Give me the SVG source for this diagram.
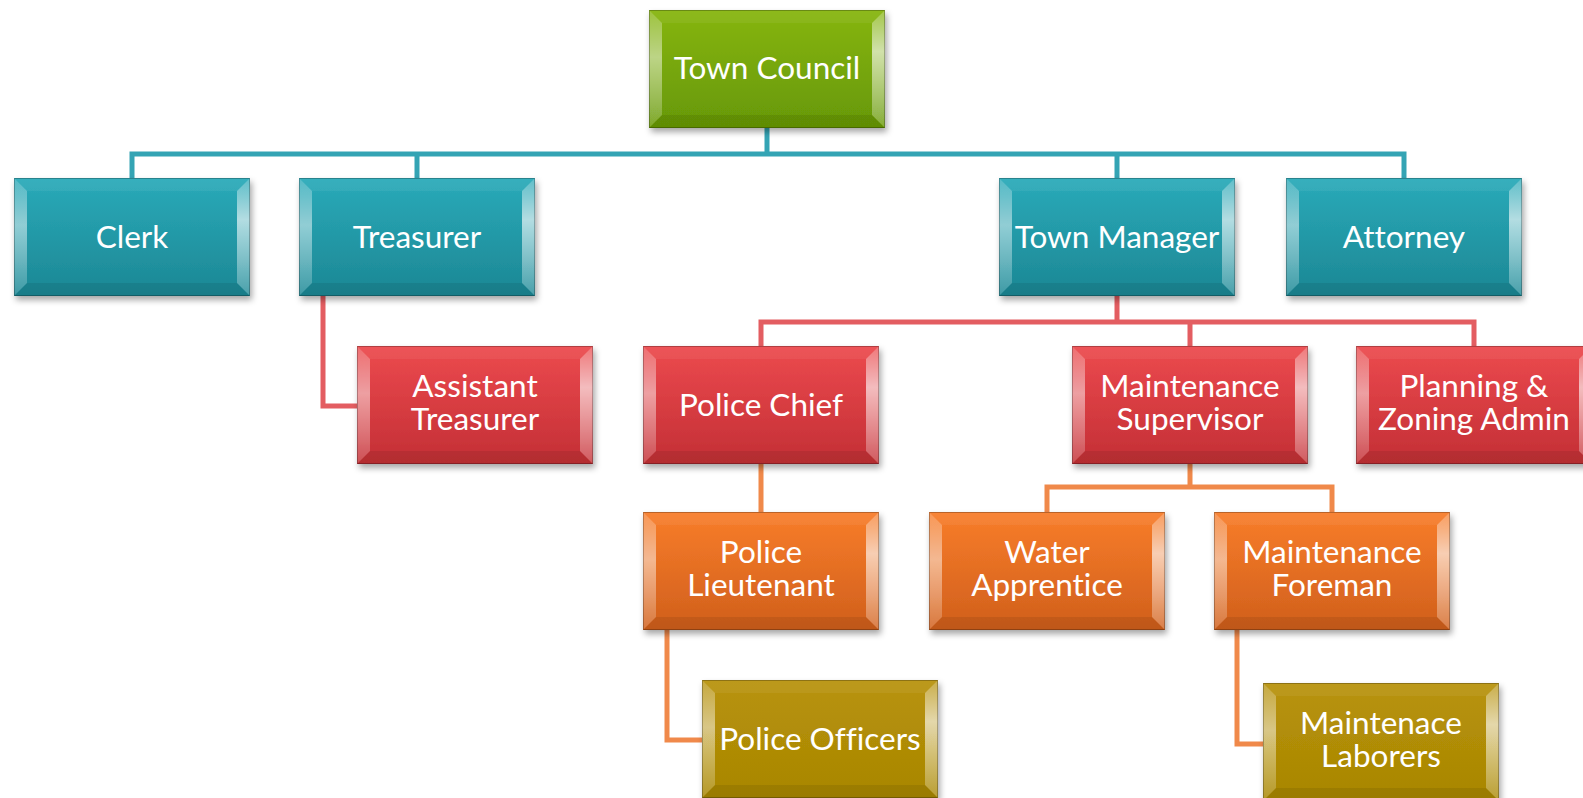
<svg xmlns="http://www.w3.org/2000/svg" xmlns:xlink="http://www.w3.org/1999/xlink" width="1583" height="798" viewBox="0 0 1583 798">
<style>
.conn{fill:none;stroke-width:5;stroke-linejoin:miter;stroke-linecap:butt}
.ct{stroke:#34a4b4}
.cr{stroke:#e35d61}
.co{stroke:#f0894a}
.lbl{font-family:"Lato","Liberation Sans",sans-serif;font-size:31.5px;fill:#ffffff;text-anchor:middle;font-variant-ligatures:none;font-feature-settings:"liga" 0}
.box{filter:url(#sh)}
</style>
<defs>
<filter id="sh" x="-10%" y="-10%" width="125%" height="130%">
<feDropShadow dx="2" dy="4" stdDeviation="3" flood-color="#000" flood-opacity="0.35"/>
</filter>
<linearGradient id="gGreen" x1="0" y1="0" x2="0" y2="1"><stop offset="0" stop-color="#86b50b"/><stop offset="1" stop-color="#679806"/></linearGradient>
<linearGradient id="gTeal" x1="0" y1="0" x2="0" y2="1"><stop offset="0" stop-color="#2aaab9"/><stop offset="1" stop-color="#1c8794"/></linearGradient>
<linearGradient id="gRed" x1="0" y1="0" x2="0" y2="1"><stop offset="0" stop-color="#ec4a4e"/><stop offset="1" stop-color="#c32f35"/></linearGradient>
<linearGradient id="gOrange" x1="0" y1="0" x2="0" y2="1"><stop offset="0" stop-color="#f87d2a"/><stop offset="1" stop-color="#d05f1c"/></linearGradient>
<linearGradient id="gGold" x1="0" y1="0" x2="0" y2="1"><stop offset="0" stop-color="#b8930a"/><stop offset="1" stop-color="#a88603"/></linearGradient>
<linearGradient id="gR" x1="0" y1="0" x2="0" y2="1"><stop offset="0" stop-color="#fff" stop-opacity="0.25"/><stop offset="0.35" stop-color="#fff" stop-opacity="0.65"/><stop offset="1" stop-color="#fff" stop-opacity="0.2"/></linearGradient>
<linearGradient id="gL" x1="0" y1="0" x2="0" y2="1"><stop offset="0" stop-color="#fff" stop-opacity="0.2"/><stop offset="0.4" stop-color="#fff" stop-opacity="0.5"/><stop offset="1" stop-color="#fff" stop-opacity="0.15"/></linearGradient>
<g id="bevel">
<polygon points="0,0 236,0 223,13 13,13" fill="#fff" fill-opacity="0.06"/>
<polygon points="0,118 236,118 223,105 13,105" fill="#000" fill-opacity="0.08"/>
<polygon points="0,0 13,13 13,105 0,118" fill="url(#gL)"/>
<polygon points="236,0 223,13 223,105 236,118" fill="url(#gR)"/>
<rect x="0.5" y="0.5" width="235" height="117" fill="none" stroke="#000" stroke-opacity="0.25"/>
</g>
</defs>
<rect width="1583" height="798" fill="#ffffff"/>
<g id="connectors">
<path class="conn ct" d="M767,128 V154 M132,178 V154 H1404 V178 M417,154 V178 M1117,154 V178"/>
<path class="conn cr" d="M323,296 V406 H357 M1117,296 V322 M761,346 V322 H1474 V346 M1190,322 V346"/>
<path class="conn co" d="M761,463 V512 M1190,463 V487 M1047,512 V487 H1332 V512 M667,630 V740 H702 M1237,630 V744 H1263"/>
</g>
<g id="town-council" transform="translate(649,10)"><rect class="box" width="236" height="118" fill="url(#gGreen)"/><use xlink:href="#bevel"/><text class="lbl" x="118" y="69">Town Council</text></g>
<g id="clerk" transform="translate(14,178)"><rect class="box" width="236" height="118" fill="url(#gTeal)"/><use xlink:href="#bevel"/><text class="lbl" x="118" y="70">Clerk</text></g>
<g id="treasurer" transform="translate(299,178)"><rect class="box" width="236" height="118" fill="url(#gTeal)"/><use xlink:href="#bevel"/><text class="lbl" x="118" y="70">Treasurer</text></g>
<g id="town-manager" transform="translate(999,178)"><rect class="box" width="236" height="118" fill="url(#gTeal)"/><use xlink:href="#bevel"/><text class="lbl" x="118" y="70">Town Manager</text></g>
<g id="attorney" transform="translate(1286,178)"><rect class="box" width="236" height="118" fill="url(#gTeal)"/><use xlink:href="#bevel"/><text class="lbl" x="118" y="70">Attorney</text></g>
<g id="assistant-treasurer" transform="translate(357,346)"><rect class="box" width="236" height="118" fill="url(#gRed)"/><use xlink:href="#bevel"/><text class="lbl" x="118" y="51">Assistant</text><text class="lbl" x="118" y="84">Treasurer</text></g>
<g id="police-chief" transform="translate(643,346)"><rect class="box" width="236" height="118" fill="url(#gRed)"/><use xlink:href="#bevel"/><text class="lbl" x="118" y="70">Police Chief</text></g>
<g id="maintenance-supervisor" transform="translate(1072,346)"><rect class="box" width="236" height="118" fill="url(#gRed)"/><use xlink:href="#bevel"/><text class="lbl" x="118" y="51">Maintenance</text><text class="lbl" x="118" y="84">Supervisor</text></g>
<g id="planning-zoning" transform="translate(1356,346)"><rect class="box" width="236" height="118" fill="url(#gRed)"/><use xlink:href="#bevel"/><text class="lbl" x="118" y="51">Planning &amp;</text><text class="lbl" x="118" y="84">Zoning Admin</text></g>
<g id="police-lieutenant" transform="translate(643,512)"><rect class="box" width="236" height="118" fill="url(#gOrange)"/><use xlink:href="#bevel"/><text class="lbl" x="118" y="51">Police</text><text class="lbl" x="118" y="84">Lieutenant</text></g>
<g id="water-apprentice" transform="translate(929,512)"><rect class="box" width="236" height="118" fill="url(#gOrange)"/><use xlink:href="#bevel"/><text class="lbl" x="118" y="51">Water</text><text class="lbl" x="118" y="84">Apprentice</text></g>
<g id="maintenance-foreman" transform="translate(1214,512)"><rect class="box" width="236" height="118" fill="url(#gOrange)"/><use xlink:href="#bevel"/><text class="lbl" x="118" y="51">Maintenance</text><text class="lbl" x="118" y="84">Foreman</text></g>
<g id="police-officers" transform="translate(702,680)"><rect class="box" width="236" height="118" fill="url(#gGold)"/><use xlink:href="#bevel"/><text class="lbl" x="118" y="70">Police Officers</text></g>
<g id="maintenance-laborers" transform="translate(1263,683)"><rect class="box" width="236" height="118" fill="url(#gGold)"/><use xlink:href="#bevel"/><text class="lbl" x="118" y="51">Maintenace</text><text class="lbl" x="118" y="84">Laborers</text></g>
</svg>
